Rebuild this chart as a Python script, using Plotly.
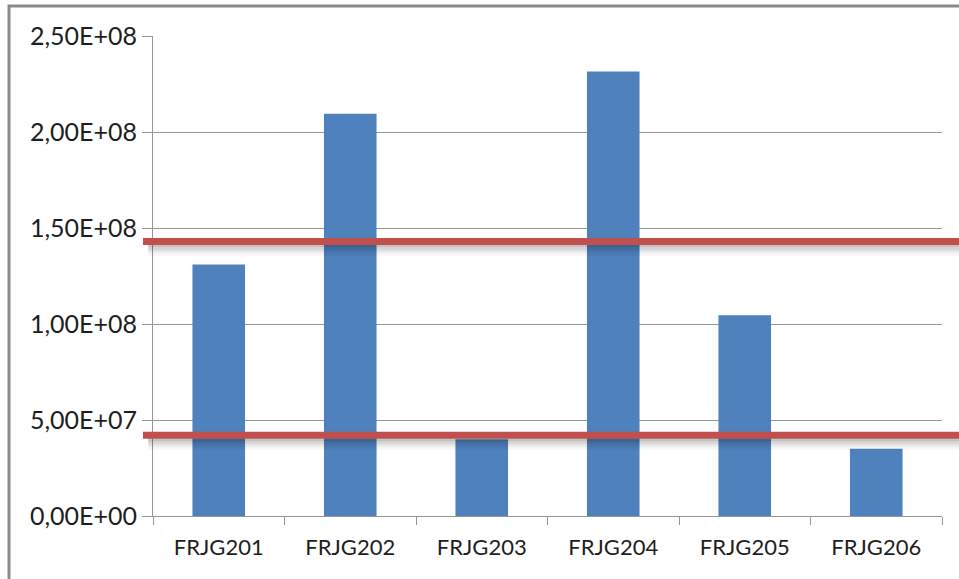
import plotly.graph_objects as go

# Sample measurements per site
categories = ["FRJG201", "FRJG202", "FRJG203", "FRJG204", "FRJG205", "FRJG206"]
values = [1.31e8, 2.095e8, 4.0e7, 2.315e8, 1.045e8, 3.5e7]

# Threshold levels drawn as horizontal reference lines
thresholds = [1.43e8, 4.2e7]

# Y axis ticks (comma decimal, scientific notation)
y_tickvals = [0, 5e7, 1e8, 1.5e8, 2e8, 2.5e8]
y_ticktext = ["0,00E+00", "5,00E+07", "1,00E+08", "1,50E+08", "2,00E+08", "2,50E+08"]

BAR = "#4F81BD"
RED = "#C0504D"
GRID = "#969696"
TEXT = "#1e1e1e"
FONT = "Lato"

fig = go.Figure(
    go.Bar(x=categories, y=values, marker=dict(color=BAR, line=dict(width=0)))
)

shapes = []
# Outer chart border (left and top visible)
shapes.append(dict(type="rect", xref="paper", yref="paper",
                   x0=-0.1825, x1=1.2, y0=-0.3, y1=1.0625,
                   line=dict(color="#8a8a8a", width=3), layer="below"))

# Threshold lines with a soft drop shadow
for t in thresholds:
    for off, a in [(5e5, 0.10), (1.0e6, 0.08), (1.5e6, 0.06), (2.0e6, 0.04), (2.6e6, 0.03)]:
        shapes.append(dict(type="line", xref="paper", yref="y",
                           x0=-0.006, x1=1.03, y0=t - off * 2.2, y1=t - off * 2.2,
                           line=dict(color=f"rgba(0,0,0,{a})", width=7), layer="above"))
    shapes.append(dict(type="line", xref="paper", yref="y",
                       x0=-0.0127, x1=1.03, y0=t, y1=t,
                       line=dict(color=RED, width=7), layer="above"))

fig.update_layout(
    width=959, height=579,
    margin=dict(l=153, r=17, t=36, b=63),
    paper_bgcolor="white", plot_bgcolor="white",
    bargap=0.6,
    showlegend=False,
    shapes=shapes,
    font=dict(family=FONT, size=22, color=TEXT),
    xaxis=dict(
        type="category",
        showline=True, linecolor=GRID, linewidth=1,
        ticks="outside", tickson="boundaries", ticklen=8, tickcolor=GRID,
        ticklabelstandoff=12,
        showgrid=False, zeroline=False,
        tickfont=dict(family=FONT, size=22, color=TEXT),
    ),
    yaxis=dict(
        range=[0, 2.5e8],
        tickvals=y_tickvals, ticktext=y_ticktext,
        showline=True, linecolor=GRID, linewidth=1,
        ticks="outside", ticklen=10, tickcolor=GRID,
        showgrid=True, gridcolor=GRID, gridwidth=1,
        zeroline=False,
        tickfont=dict(family=FONT, size=25, color=TEXT),
    ),
)

fig.write_html("out.html")
